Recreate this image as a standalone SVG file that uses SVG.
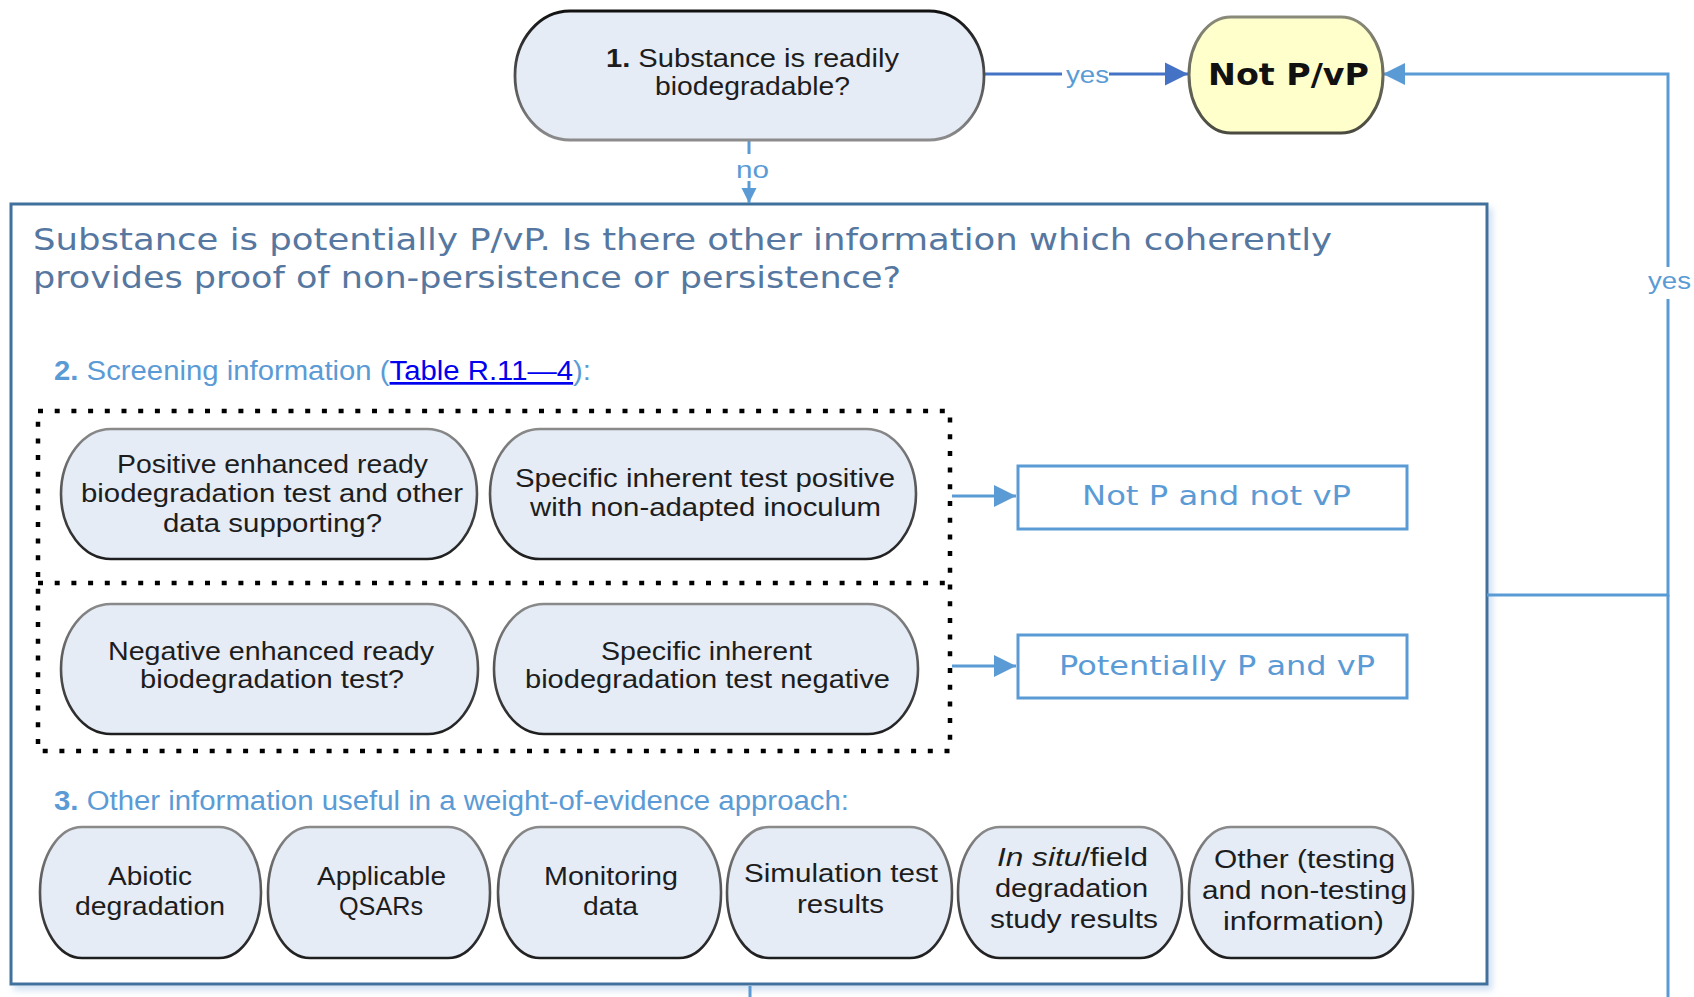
<svg xmlns="http://www.w3.org/2000/svg" width="1694" height="997" viewBox="0 0 1694 997">
<defs>
  <linearGradient id="gStroke" x1="0" y1="0" x2="0" y2="1">
    <stop offset="0" stop-color="#8a8a8a"/>
    <stop offset="1" stop-color="#1e1e1e"/>
  </linearGradient>
  <linearGradient id="gStrokeTop" x1="0" y1="0" x2="0" y2="1">
    <stop offset="0" stop-color="#111"/>
    <stop offset="1" stop-color="#8c8c8c"/>
  </linearGradient>
  <linearGradient id="gStrokeY" x1="0" y1="0" x2="0" y2="1">
    <stop offset="0" stop-color="#8a8a7a"/>
    <stop offset="1" stop-color="#4a4a40"/>
  </linearGradient>
  <filter id="shadow" x="-2%" y="-2%" width="105%" height="106%">
    <feDropShadow dx="4" dy="5" stdDeviation="3" flood-color="#9dc0e4" flood-opacity="0.45"/>
  </filter>
  <marker id="arrL" markerUnits="userSpaceOnUse" viewBox="0 0 10 10" refX="10" refY="5" markerWidth="22" markerHeight="24" orient="auto">
    <path d="M0,0 L10,5 L0,10 z" fill="#5b9bd5"/>
  </marker>
  <marker id="arrD" markerUnits="userSpaceOnUse" viewBox="0 0 10 10" refX="10" refY="5" markerWidth="23" markerHeight="25" orient="auto">
    <path d="M0,0 L10,5 L0,10 z" fill="#4472c4"/>
  </marker>
  <marker id="arrS" markerUnits="userSpaceOnUse" viewBox="0 0 10 10" refX="10" refY="5" markerWidth="15" markerHeight="20" orient="auto">
    <path d="M0,0 L10,5 L0,10 z" fill="#5b9bd5"/>
  </marker>
</defs>
<style>
  .pill { fill: #e5ecf6; stroke: url(#gStroke); stroke-width: 2.6; }
  .pt { font-family: "Liberation Sans", Arial, sans-serif; font-size: 26px; fill: #1d1d1d; }
  .head { font-family: "DejaVu Sans", Verdana, sans-serif; font-size: 30px; fill: #56779f; }
  .lbl { font-family: "Liberation Sans", Arial, sans-serif; font-size: 27px; fill: #5b9bd5; }
  .res { fill: #ffffff; stroke: #5b9bd5; stroke-width: 3; }
  .rt { font-family: "DejaVu Sans", Verdana, sans-serif; font-size: 26px; fill: #5b9bd5; }
  .dot { fill: none; stroke: #000; stroke-width: 4.5; stroke-dasharray: 5 11.7; }
  .con { fill: none; stroke: #5b9bd5; stroke-width: 3; }
  .cl { font-family: "Liberation Sans", Arial, sans-serif; font-size: 23px; fill: #5b9bd5; }
</style>
<rect width="1694" height="997" fill="#ffffff"/>

<g id="frame">
  <rect x="11" y="204" width="1476" height="780" fill="#ffffff" stroke="#41719c" stroke-width="3" filter="url(#shadow)"/>
  <text class="head" x="33" y="250" textLength="1299" lengthAdjust="spacingAndGlyphs">Substance is potentially P/vP. Is there other information which coherently</text>
  <text class="head" x="33" y="288" textLength="868" lengthAdjust="spacingAndGlyphs">provides proof of non-persistence or persistence?</text>
  <text class="lbl" x="54" y="380" textLength="537" lengthAdjust="spacingAndGlyphs"><tspan font-weight="bold">2.</tspan> Screening information (<tspan fill="#0000ee" text-decoration="underline">Table R.11—4</tspan>):</text>
  <text class="lbl" x="54" y="810" textLength="795" lengthAdjust="spacingAndGlyphs"><tspan font-weight="bold">3.</tspan> Other information useful in a weight-of-evidence approach:</text>
</g>

<g id="connectors">
  <line class="con" x1="749" y1="140" x2="749" y2="154"/>
  <line class="con" x1="749" y1="181" x2="749" y2="203" marker-end="url(#arrS)"/>
  <text class="cl" x="736" y="178" textLength="33" lengthAdjust="spacingAndGlyphs">no</text>
  <line x1="984" y1="74" x2="1062" y2="74" stroke="#4472c4" stroke-width="3"/>
  <line x1="1109" y1="74" x2="1188" y2="74" stroke="#4472c4" stroke-width="3" marker-end="url(#arrD)"/>
  <text class="cl" x="1066" y="83" textLength="43" lengthAdjust="spacingAndGlyphs">yes</text>
  <polyline class="con" points="1487,595 1668,595 1668,299"/>
  <polyline class="con" points="1668,267 1668,74 1383,74" marker-end="url(#arrL)"/>
  <line class="con" x1="1668" y1="595" x2="1668" y2="997"/>
  <text class="cl" x="1648" y="289" textLength="43" lengthAdjust="spacingAndGlyphs">yes</text>
  <line class="con" x1="952" y1="496" x2="1016" y2="496" marker-end="url(#arrL)"/>
  <line class="con" x1="952" y1="666" x2="1016" y2="666" marker-end="url(#arrL)"/>
  <line class="con" x1="750" y1="986" x2="750" y2="997"/>
</g>

<g id="q1">
  <rect x="515" y="11" width="469" height="129" rx="55" ry="64" fill="#e5ecf6" stroke="url(#gStrokeTop)" stroke-width="2.8"/>
  <text class="pt" x="606" y="67" textLength="293" lengthAdjust="spacingAndGlyphs"><tspan font-weight="bold">1.</tspan> Substance is readily</text>
  <text class="pt" x="655" y="95" textLength="195" lengthAdjust="spacingAndGlyphs">biodegradable?</text>
</g>

<g id="notpvp">
  <rect x="1189" y="17" width="194" height="116" rx="42" ry="58" fill="#ffffcc" stroke="url(#gStrokeY)" stroke-width="3"/>
  <text x="1208" y="85" font-family="'DejaVu Sans', Verdana, sans-serif" font-weight="bold" font-size="30" fill="#111" textLength="161" lengthAdjust="spacingAndGlyphs">Not P/vP</text>
</g>

<g id="screen-box">
  <rect class="dot" x="38" y="411" width="912" height="340"/>
  <line class="dot" x1="38" y1="583" x2="950" y2="583"/>
</g>

<g id="s-pos-ready">
  <rect class="pill" x="61" y="429" width="416" height="130" rx="50" ry="65"/>
  <text class="pt" x="117" y="473" textLength="311" lengthAdjust="spacingAndGlyphs">Positive enhanced ready</text>
  <text class="pt" x="81" y="502" textLength="382" lengthAdjust="spacingAndGlyphs">biodegradation test and other</text>
  <text class="pt" x="163" y="532" textLength="219" lengthAdjust="spacingAndGlyphs">data supporting?</text>
</g>
<g id="s-pos-inherent">
  <rect class="pill" x="490" y="429" width="426" height="130" rx="50" ry="65"/>
  <text class="pt" x="515" y="487" textLength="380" lengthAdjust="spacingAndGlyphs">Specific inherent test positive</text>
  <text class="pt" x="530" y="516" textLength="351" lengthAdjust="spacingAndGlyphs">with non-adapted inoculum</text>
</g>
<g id="s-neg-ready">
  <rect class="pill" x="61" y="604" width="417" height="130" rx="50" ry="65"/>
  <text class="pt" x="108" y="660" textLength="326" lengthAdjust="spacingAndGlyphs">Negative enhanced ready</text>
  <text class="pt" x="140" y="688" textLength="264" lengthAdjust="spacingAndGlyphs">biodegradation test?</text>
</g>
<g id="s-neg-inherent">
  <rect class="pill" x="494" y="604" width="424" height="130" rx="50" ry="65"/>
  <text class="pt" x="601" y="660" textLength="211" lengthAdjust="spacingAndGlyphs">Specific inherent</text>
  <text class="pt" x="525" y="688" textLength="365" lengthAdjust="spacingAndGlyphs">biodegradation test negative</text>
</g>

<g id="r-notp">
  <rect class="res" x="1018" y="466" width="389" height="63"/>
  <text class="rt" x="1082" y="505" textLength="269" lengthAdjust="spacingAndGlyphs">Not P and not vP</text>
</g>
<g id="r-potp">
  <rect class="res" x="1018" y="635" width="389" height="63"/>
  <text class="rt" x="1059" y="675" textLength="316" lengthAdjust="spacingAndGlyphs">Potentially P and vP</text>
</g>

<g id="o-abiotic">
  <rect class="pill" x="40" y="827" width="221" height="131" rx="42" ry="65"/>
  <text class="pt" x="108" y="885" textLength="84" lengthAdjust="spacingAndGlyphs">Abiotic</text>
  <text class="pt" x="75" y="915" textLength="150" lengthAdjust="spacingAndGlyphs">degradation</text>
</g>
<g id="o-qsar">
  <rect class="pill" x="268" y="827" width="222" height="131" rx="42" ry="65"/>
  <text class="pt" x="317" y="885" textLength="129" lengthAdjust="spacingAndGlyphs">Applicable</text>
  <text class="pt" x="339" y="915" textLength="84" lengthAdjust="spacingAndGlyphs">QSARs</text>
</g>
<g id="o-monitor">
  <rect class="pill" x="498" y="827" width="223" height="131" rx="42" ry="65"/>
  <text class="pt" x="544" y="885" textLength="134" lengthAdjust="spacingAndGlyphs">Monitoring</text>
  <text class="pt" x="583" y="915" textLength="55" lengthAdjust="spacingAndGlyphs">data</text>
</g>
<g id="o-sim">
  <rect class="pill" x="727" y="827" width="225" height="131" rx="42" ry="65"/>
  <text class="pt" x="744" y="882" textLength="194" lengthAdjust="spacingAndGlyphs">Simulation test</text>
  <text class="pt" x="797" y="913" textLength="87" lengthAdjust="spacingAndGlyphs">results</text>
</g>
<g id="o-insitu">
  <rect class="pill" x="958" y="827" width="224" height="131" rx="42" ry="65"/>
  <text class="pt" x="997" y="866" textLength="151" lengthAdjust="spacingAndGlyphs"><tspan font-style="italic">In situ</tspan>/field</text>
  <text class="pt" x="995" y="897" textLength="153" lengthAdjust="spacingAndGlyphs">degradation</text>
  <text class="pt" x="990" y="928" textLength="168" lengthAdjust="spacingAndGlyphs">study results</text>
</g>
<g id="o-other">
  <rect class="pill" x="1189" y="827" width="224" height="131" rx="42" ry="65"/>
  <text class="pt" x="1214" y="868" textLength="181" lengthAdjust="spacingAndGlyphs">Other (testing</text>
  <text class="pt" x="1202" y="899" textLength="205" lengthAdjust="spacingAndGlyphs">and non-testing</text>
  <text class="pt" x="1223" y="930" textLength="161" lengthAdjust="spacingAndGlyphs">information)</text>
</g>
</svg>
